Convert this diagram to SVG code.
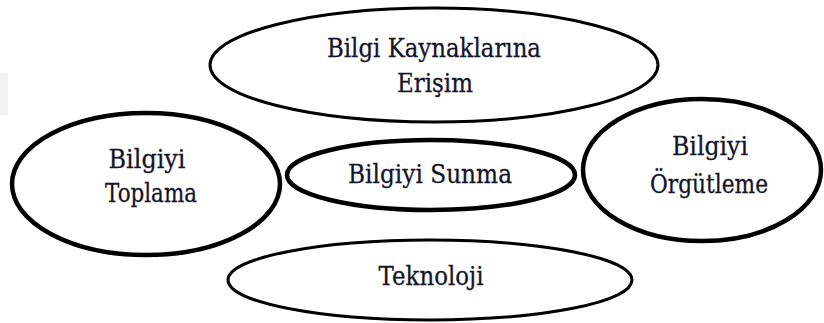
<svg xmlns="http://www.w3.org/2000/svg" width="824" height="323" viewBox="0 0 824 323">
<style>
.e{fill:none;stroke:#000}
.thin{stroke-width:3}
.thick{stroke-width:4.5}
.t{font-family:"DejaVu Serif",serif;font-size:26px;fill:#14142a;stroke:#14142a;stroke-width:0.3;text-anchor:middle}
</style>
<rect width="824" height="323" fill="#fff"/>
<rect x="0" y="73" width="8" height="42" fill="#f2f2f2"/>
<g id="connectors"></g>
<g id="node-erisim">
<ellipse class="e thin" cx="434" cy="65" rx="224" ry="57"/>
<text class="t" x="434" y="57" textLength="214" lengthAdjust="spacingAndGlyphs">Bilgi Kaynaklarına</text>
<text class="t" x="435" y="92" textLength="76" lengthAdjust="spacingAndGlyphs">Erişim</text>
</g>
<g id="node-toplama">
<ellipse class="e thick" cx="146" cy="184" rx="134" ry="71"/>
<text class="t" x="147" y="168" textLength="77" lengthAdjust="spacingAndGlyphs">Bilgiyi</text>
<text class="t" x="151" y="202" textLength="92" lengthAdjust="spacingAndGlyphs">Toplama</text>
</g>
<g id="node-sunma">
<ellipse class="e thick" cx="431" cy="175" rx="144" ry="35"/>
<text class="t" x="430" y="183" textLength="164" lengthAdjust="spacingAndGlyphs">Bilgiyi Sunma</text>
</g>
<g id="node-orgutleme">
<ellipse class="e thick" cx="702" cy="170" rx="119" ry="71"/>
<text class="t" x="710" y="155" textLength="76" lengthAdjust="spacingAndGlyphs">Bilgiyi</text>
<text class="t" x="709" y="193" textLength="118" lengthAdjust="spacingAndGlyphs">Örgütleme</text>
</g>
<g id="node-teknoloji">
<ellipse class="e thin" cx="430" cy="280" rx="202" ry="40"/>
<text class="t" x="431" y="285" textLength="105" lengthAdjust="spacingAndGlyphs">Teknoloji</text>
</g>
</svg>
